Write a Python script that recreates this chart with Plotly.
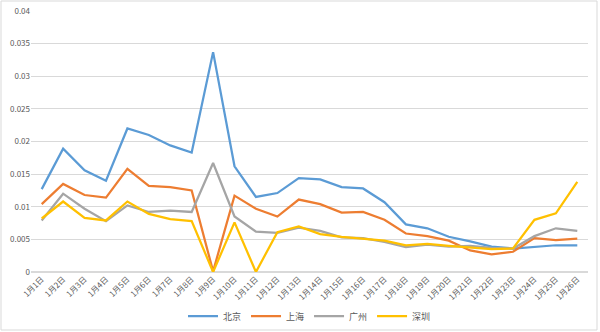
import plotly.graph_objects as go

dates = [f"1月{i}日" for i in range(1, 27)]

beijing = [0.0127, 0.0189, 0.0156, 0.0140, 0.0220, 0.0210, 0.0194, 0.0183, 0.0337, 0.0162,
           0.0115, 0.0121, 0.0144, 0.0142, 0.0130, 0.0128, 0.0107, 0.0073, 0.0067, 0.0054,
           0.0047, 0.0039, 0.0036, 0.0038, 0.0041, 0.0041]
shanghai = [0.0104, 0.0135, 0.0118, 0.0114, 0.0158, 0.0132, 0.0130, 0.0125, 0.0001, 0.0117,
            0.0097, 0.0085, 0.0111, 0.0104, 0.0091, 0.0092, 0.0080, 0.0059, 0.0055, 0.0048,
            0.0033, 0.0027, 0.0031, 0.0052, 0.0049, 0.0051]
guangzhou = [0.0079, 0.0120, 0.0097, 0.0078, 0.0102, 0.0092, 0.0094, 0.0092, 0.0167, 0.0085,
             0.0062, 0.0060, 0.0068, 0.0063, 0.0053, 0.0052, 0.0046, 0.0038, 0.0042, 0.0039,
             0.0040, 0.0037, 0.0036, 0.0055, 0.0067, 0.0063]
shenzhen = [0.0082, 0.0108, 0.0083, 0.0079, 0.0108, 0.0089, 0.0081, 0.0078, 0.0000, 0.0076,
            0.0000, 0.0061, 0.0070, 0.0058, 0.0054, 0.0051, 0.0048, 0.0041, 0.0043, 0.0040,
            0.0038, 0.0035, 0.0036, 0.0080, 0.0090, 0.0138]

series = [("北京", beijing, "#5B9BD5"), ("上海", shanghai, "#ED7D31"),
          ("广州", guangzhou, "#A5A5A5"), ("深圳", shenzhen, "#FFC000")]

y_ticks = [0, 0.005, 0.01, 0.015, 0.02, 0.025, 0.03, 0.035, 0.04]
y_labels = ["0", "0.005", "0.01", "0.015", "0.02", "0.025", "0.03", "0.035", "0.04"]

fig = go.Figure()
for name, vals, color in series:
    fig.add_trace(go.Scatter(x=dates, y=vals, name=name, mode="lines",
                             line=dict(color=color, width=2.25)))

W, H = 600, 332
ml, mr, mt, mb = 31, 12, 11, 60
pw, ph = W - ml - mr, H - mt - mb

fig.update_layout(
    width=W, height=H,
    margin=dict(l=ml, r=mr, t=mt, b=mb, autoexpand=False),
    paper_bgcolor="white", plot_bgcolor="white",
    font=dict(family="Noto Sans CJK SC, DejaVu Sans", size=9, color="#595959"),
    showlegend=True,
    legend=dict(orientation="h", x=0.5, xanchor="center", y=(-(316 - mt - ph) / ph), yanchor="middle",
                font=dict(size=9, color="#595959"), itemwidth=30, tracegroupgap=0,
                bgcolor="rgba(0,0,0,0)"),
    xaxis=dict(type="category", tickangle=-45, showgrid=False, showline=False, automargin=False,
               ticks="", ticklen=4, tickfont=dict(size=8, color="#595959"), range=[-0.5, 25.5]),
    yaxis=dict(range=[0, 0.04], tickvals=y_ticks, ticktext=y_labels, showgrid=True, automargin=False,
               gridcolor="#D9D9D9", gridwidth=1, zeroline=True, zerolinecolor="#D9D9D9",
               showline=False, ticks="", tickfont=dict(size=8, color="#595959")),
    shapes=[dict(type="rect", xref="paper", yref="paper",
                 x0=(1 - ml) / pw, x1=(597 - ml) / pw,
                 y0=(H - mb - 330) / ph, y1=(H - mb - 1) / ph,
                 line=dict(color="#D9D9D9", width=1), fillcolor="rgba(0,0,0,0)", layer="below")],
)

fig.write_html("out.html")
